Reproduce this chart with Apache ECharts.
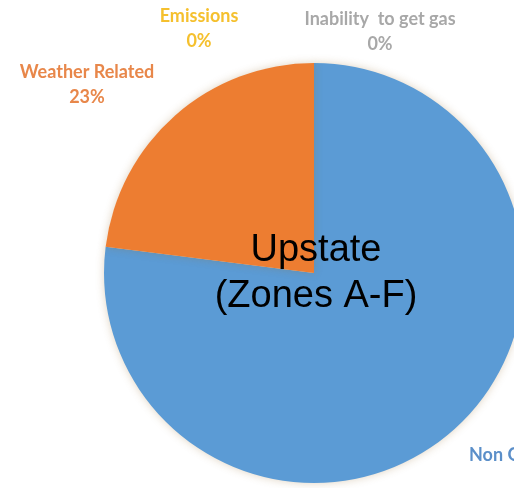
<!DOCTYPE html>
<html><head><meta charset="utf-8">
<script src="https://cdn.jsdelivr.net/npm/echarts@6/dist/echarts.min.js"></script>
<style>html,body{margin:0;padding:0;background:#fff}#c{width:514px;height:488px}</style>
</head><body><div id="c"></div>
<script>
const categories = ['Non Gas Related', 'Weather Related', 'Emissions', 'Inability  to get gas'];
const values = [77, 23, 0, 0];
const colors = ['#5B9BD5', '#ED7D31', '#FFC000', '#A5A5A5'];
const labelColors = ['#5B8FC9', '#E8874A', '#F5C02E', '#A8A8A8'];
const centerTitle = ['Upstate', '(Zones A-F)'];

// [x, top of first line, align, lineHeight]
const labelPos = [[469, 430, 'left', 50], [87, 60, 'center', 25], [199, 4, 'center', 25], [380, 7, 'center', 25]];
const total = values.reduce((a, b) => a + b, 0);

const chart = echarts.init(document.getElementById('c'), null, {renderer: 'canvas'});
const graphics = categories.map((c, i) => ({
  type: 'text', x: labelPos[i][0], y: labelPos[i][1], z: 10,
  style: {
    text: c + '\n' + Math.round(values[i] / total * 100) + '%',
    fill: labelColors[i], font: 'bold 18px Lato', lineHeight: labelPos[i][3],
    align: labelPos[i][2], verticalAlign: 'top'
  }
}));
graphics.push({
  type: 'text', x: 316, y: 274, z: 10,
  style: {
    text: centerTitle.join('\n'), fill: '#000', font: '38px "Liberation Sans"',
    lineHeight: 46, align: 'center', verticalAlign: 'middle'
  }
});
chart.setOption({
  animation: false,
  backgroundColor: '#fff',
  graphic: graphics,
  series: [{
    type: 'pie', center: [314, 273], radius: 210, startAngle: 90, clockwise: true,
    label: {show: false}, labelLine: {show: false},
    itemStyle: {shadowBlur: 8, shadowColor: 'rgba(150,110,50,0.3)'},
    emphasis: {disabled: true},
    data: categories.map((c, i) => ({name: c, value: values[i], itemStyle: {color: colors[i]}}))
  }]
});
</script></body></html>
